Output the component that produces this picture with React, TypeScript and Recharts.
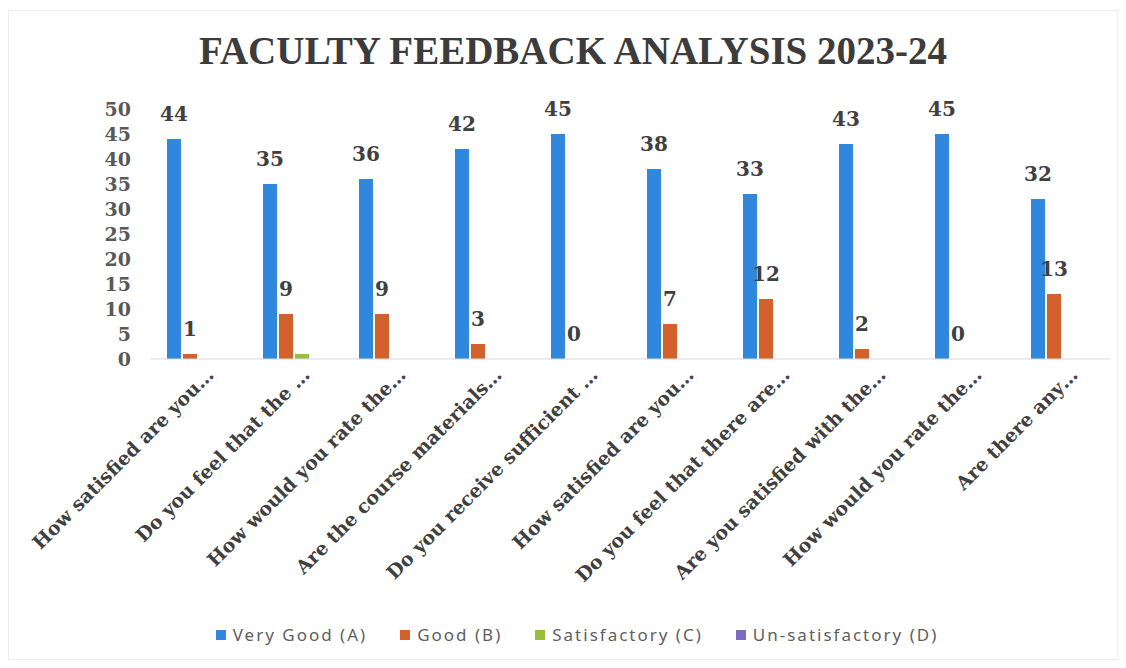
import { Bar, BarChart, LabelList, Legend, XAxis, YAxis } from 'recharts'

const questions = [
  'How satisfied are you…',
  'Do you feel that the …',
  'How would you rate the…',
  'Are the course materials…',
  'Do you receive sufficient …',
  'How satisfied are you…',
  'Do you feel that there are…',
  'Are you satisfied with the…',
  'How would you rate the…',
  'Are there any…',
]

const veryGood = [44, 35, 36, 42, 45, 38, 33, 43, 45, 32]
const good = [1, 9, 9, 3, 0, 7, 12, 2, 0, 13]
const satisfactory = [0, 1, 0, 0, 0, 0, 0, 0, 0, 0]
const unsatisfactory = [0, 0, 0, 0, 0, 0, 0, 0, 0, 0]

const yTicks = [0, 5, 10, 15, 20, 25, 30, 35, 40, 45, 50]

const series = [
  { key: 'a', name: 'Very Good (A)', color: '#3187dc' },
  { key: 'b', name: 'Good (B)', color: '#d2612b' },
  { key: 'c', name: 'Satisfactory (C)', color: '#96be3c' },
  { key: 'd', name: 'Un-satisfactory (D)', color: '#7b6cc0' },
]

const data = questions.map((q, i) => ({
  q,
  a: veryGood[i],
  b: good[i],
  c: satisfactory[i],
  d: unsatisfactory[i],
}))

const SERIF = '"DejaVu Serif", serif'

function QuestionTick({ x, y, payload }: { x?: number; y?: number; payload?: { value: string } }) {
  return (
    <g transform={`translate(${(x ?? 0) + 17},${(y ?? 0) + 15})`}>
      <text
        x={0}
        y={0}
        transform="rotate(-45)"
        textAnchor="end"
        fill="#404040"
        fontFamily={SERIF}
        fontSize={19}
        fontWeight="bold"
      >
        {payload?.value}
      </text>
    </g>
  )
}

function LegendRow() {
  return (
    <div
      style={{
        display: 'flex',
        justifyContent: 'center',
        gap: 33,
        fontFamily: '"Noto Sans", sans-serif',
        fontSize: 17,
        letterSpacing: 2,
        color: '#606060',
      }}
    >
      {series.map((s) => (
        <span key={s.key} style={{ display: 'flex', alignItems: 'center' }}>
          <span style={{ width: 10, height: 10, background: s.color, marginRight: 7 }} />
          {s.name}
        </span>
      ))}
    </div>
  )
}

export default function App() {
  return (
    <div style={{ position: 'absolute', left: 0, top: 0, width: 1126, height: 668, background: '#fff' }}>
      <div
        style={{
          position: 'absolute',
          left: 8,
          top: 10,
          width: 1110,
          height: 650,
          border: '1px solid #eeeeee',
          boxSizing: 'border-box',
        }}
      />
      <div
        style={{
          position: 'absolute',
          top: 29,
          left: 0,
          width: 1146,
          textAlign: 'center',
          fontFamily: '"Liberation Serif", serif',
          fontSize: 39,
          fontWeight: 'bold',
          color: '#3c3c3c',
          lineHeight: '44px',
        }}
      >
        FACULTY FEEDBACK ANALYSIS 2023-24
      </div>
      <BarChart
        width={1126}
        height={668}
        data={data}
        margin={{ top: 109, right: 16, bottom: 36, left: 0 }}
        barSize={14}
        barGap={2}
        style={{ position: 'absolute', left: 0, top: 0 }}
      >
        <XAxis
          dataKey="q"
          interval={0}
          height={250}
          tickLine={false}
          tickSize={0}
          stroke="#d9d9d9"
          tick={<QuestionTick />}
        />
        <YAxis
          domain={[0, 50]}
          ticks={yTicks}
          interval={0}
          width={150}
          axisLine={false}
          tickLine={false}
          tickSize={0}
          tickMargin={19}
          tick={{ fill: '#595959', fontFamily: SERIF, fontSize: 19, fontWeight: 'bold' }}
        />
        <Legend
          verticalAlign="bottom"
          content={<LegendRow />}
          wrapperStyle={{ left: 14, width: 1126, bottom: 22 }}
        />
        {series.map((s) => (
          <Bar
            key={s.key}
            dataKey={s.key}
            name={s.name}
            fill={s.color}
            minPointSize={s.key === 'b' ? 0.01 : 0}
            isAnimationActive={false}
          >
            {(s.key === 'a' || s.key === 'b') && (
              <LabelList
                dataKey={s.key}
                position="top"
                offset={18}
                fill="#404040"
                fontFamily={SERIF}
                fontSize={20}
                fontWeight="bold"
              />
            )}
          </Bar>
        ))}
      </BarChart>
    </div>
  )
}
